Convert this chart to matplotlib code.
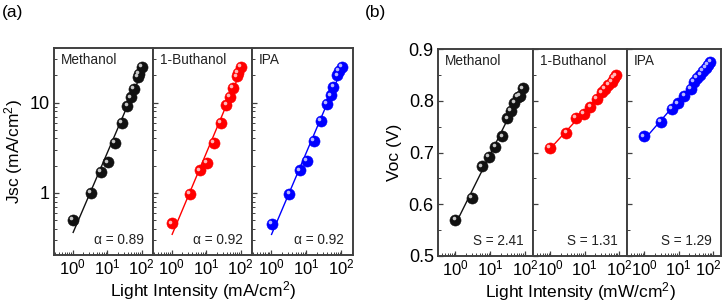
import numpy as np
import matplotlib
matplotlib.use("Agg")
import matplotlib.pyplot as plt
from matplotlib.ticker import LogLocator, FixedLocator, NullFormatter, FixedFormatter, MultipleLocator
from matplotlib.transforms import offset_copy, ScaledTranslation

plt.rcParams['font.family'] = ['Liberation Sans', 'DejaVu Sans']
plt.rcParams['mathtext.fontset'] = 'custom'
plt.rcParams['mathtext.rm'] = 'Liberation Sans'
plt.rcParams['mathtext.it'] = 'Liberation Sans'

# ---------------- data ----------------
solvents = ["Methanol", "1-Buthanol", "IPA"]
colors = ["#111111", "#ff0000", "#0000ff"]
highlights = ["#c8c8c8", "#ffb8b8", "#b8b8ff"]

# (a) Jsc vs light intensity
jsc_intensity = [1.04, 3.35, 6.7, 10.3, 16.5, 26.7, 38.5, 49, 59, 77, 85, 104]
jsc_methanol = [0.50, 1.0, 1.70, 2.17, 3.6, 5.9, 9.1, 11.4, 14.3, 19.1, 20.7, 24.6]
jsc_buthanol = [0.46, 0.98, 1.77, 2.13, 3.6, 6.0, 9.4, 11.6, 14.6, 19.5, 21.5, 25.0]
jsc_ipa = [0.45, 0.98, 1.77, 2.24, 3.8, 6.2, 9.6, 12.0, 15.0, 20.0, 22.3, 25.0]
alpha_labels = ["α = 0.89", "α = 0.92", "α = 0.92"]

# (b) Voc vs light intensity
voc_int_methanol = [1.0, 2.97, 5.8, 9.2, 14.2, 22.6, 31.5, 39.4, 50, 64, 72, 88]
voc_methanol = [0.570, 0.612, 0.673, 0.691, 0.711, 0.731, 0.766, 0.781, 0.796, 0.808, 0.810, 0.824]
voc_int_buthanol = [0.96, 2.94, 5.5, 9.5, 14.8, 22.5, 31.4, 39.8, 49.7, 62, 73, 83]
voc_buthanol = [0.709, 0.738, 0.767, 0.775, 0.788, 0.803, 0.816, 0.823, 0.831, 0.837, 0.844, 0.849]
voc_int_ipa = [0.97, 3.0, 6.3, 9.4, 14.8, 22.6, 27.6, 34.5, 43.4, 51.7, 61.7, 72.7, 85]
voc_ipa = [0.731, 0.759, 0.784, 0.795, 0.810, 0.823, 0.836, 0.844, 0.850, 0.857, 0.863, 0.869, 0.875]
s_labels = ["S = 2.41", "S = 1.31", "S = 1.29"]

jsc_sets = [(jsc_intensity, jsc_methanol), (jsc_intensity, jsc_buthanol), (jsc_intensity, jsc_ipa)]
voc_sets = [(voc_int_methanol, voc_methanol), (voc_int_buthanol, voc_buthanol), (voc_int_ipa, voc_ipa)]

W, H = 724, 305
fig = plt.figure(figsize=(W / 100, H / 100), dpi=100)

spine_col = "#404040"
xtick_fs = 12
ytick_fs = 13
label_fs = 12.5
inner_fs = 9.8


def add_ax(x0, x1, y0, y1):
    return fig.add_axes([x0 / W, 1 - y1 / H, (x1 - x0) / W, (y1 - y0) / H])


def balls(ax, x, y, i):
    ax.plot(x, y, 'o', ms=8.0, color=colors[i], mec=colors[i], mew=0.4, zorder=3)
    tr = offset_copy(ax.transData, fig=fig, x=-1.3, y=1.3, units='points')
    ax.plot(x, y, 'o', ms=2.6, color=highlights[i], mew=0, transform=tr, zorder=4)


def style_common(ax):
    for s in ax.spines.values():
        s.set_color(spine_col)
        s.set_linewidth(1.4)
    ax.set_xscale('log')
    ax.xaxis.set_major_locator(FixedLocator([1, 10, 100]))
    ax.xaxis.set_major_formatter(FixedFormatter([r'$10^{0}$', r'$10^{1}$', r'$10^{2}$']))
    ax.xaxis.set_minor_locator(LogLocator(base=10, subs=np.arange(2, 10), numticks=20))
    ax.xaxis.set_minor_formatter(NullFormatter())
    ax.tick_params(which='both', direction='in', color=spine_col, top=False, right=False)
    ax.tick_params(which='major', length=3.5, width=0.9)
    ax.tick_params(which='minor', length=2, width=0.7)
    ax.tick_params(axis='x', labelsize=xtick_fs, pad=2)
    ax.tick_params(axis='y', labelsize=ytick_fs, pad=3)


# ---------------- panel (a) ----------------
a_edges = [54, 153, 252, 353]
for i in range(3):
    ax = add_ax(a_edges[i], a_edges[i + 1], 48, 255)
    style_common(ax)
    ax.set_yscale('log')
    ax.set_xlim(0.29, 213)
    ax.set_ylim(0.205, 40.2)
    ax.yaxis.set_major_locator(FixedLocator([1, 10]))
    ax.yaxis.set_minor_locator(LogLocator(base=10, subs=np.arange(2, 10), numticks=20))
    ax.yaxis.set_minor_formatter(NullFormatter())
    ax.tick_params(which='both', direction='in')
    if i == 0:
        ax.yaxis.set_major_formatter(FixedFormatter(['1', '10']))
        ax.set_ylabel('Jsc (mA/cm$^{2}$)', fontsize=label_fs)
        ax.yaxis.set_label_coords(-0.29, 0.5)
    else:
        ax.yaxis.set_major_formatter(NullFormatter())
    x, y = jsc_sets[i]
    lx, ly = np.log10(x), np.log10(y)
    k, b = np.polyfit(lx, ly, 1)
    xf = np.array([x[0], x[-1]])
    ax.plot(xf, 10 ** (b + k * np.log10(xf)), '-', color=colors[i], lw=1.0, zorder=2)
    balls(ax, x, y, i)
    ax.text(0.07, 0.975, solvents[i], transform=ax.transAxes, ha='left', va='top',
            fontsize=inner_fs, color='#222222')
    ax.text(0.91, 0.04, alpha_labels[i], transform=ax.transAxes, ha='right', va='bottom',
            fontsize=inner_fs, color='#222222')
    if i == 1:
        ax.set_xlabel('Light Intensity (mA/cm$^{2}$)', fontsize=label_fs, labelpad=1)

# ---------------- panel (b) ----------------
b_edges = [438, 533, 627, 721]
for i in range(3):
    ax = add_ax(b_edges[i], b_edges[i + 1], 49, 256)
    style_common(ax)
    ax.set_xlim(0.315, 172)
    ax.set_ylim(0.5, 0.9)
    ax.yaxis.set_major_locator(FixedLocator([0.5, 0.6, 0.7, 0.8, 0.9]))
    ax.yaxis.set_minor_locator(MultipleLocator(0.05))
    ax.tick_params(which='both', direction='in')
    if i == 0:
        ax.yaxis.set_major_formatter(FixedFormatter(['0.5', '0.6', '0.7', '0.8', '0.9']))
        ax.set_ylabel('Voc (V)', fontsize=label_fs)
        ax.yaxis.set_label_coords(-0.38, 0.5)
    else:
        ax.yaxis.set_major_formatter(NullFormatter())
    x, y = voc_sets[i]
    k, b = np.polyfit(np.log10(x), y, 1)
    xf = np.array([x[0], x[-1]])
    ax.plot(xf, b + k * np.log10(xf), '-', color=colors[i], lw=1.0, zorder=2)
    balls(ax, x, y, i)
    ax.text(0.07, 0.975, solvents[i], transform=ax.transAxes, ha='left', va='top',
            fontsize=inner_fs, color='#222222')
    ax.text(0.90, 0.04, s_labels[i], transform=ax.transAxes, ha='right', va='bottom',
            fontsize=inner_fs, color='#222222')
    if i == 1:
        ax.set_xlabel('Light Intensity (mW/cm$^{2}$)', fontsize=label_fs, labelpad=1)
    if i == 2:
        last = ax.xaxis.get_major_ticks()[2].label1
        last.set_transform(last.get_transform() + ScaledTranslation(-3.5 / 72, 0, fig.dpi_scale_trans))

fig.text(0.002, 0.985, '(a)', ha='left', va='top', fontsize=12.5)
fig.text(365 / W, 0.985, '(b)', ha='left', va='top', fontsize=12.5)

fig.savefig('out.png', dpi=100)
